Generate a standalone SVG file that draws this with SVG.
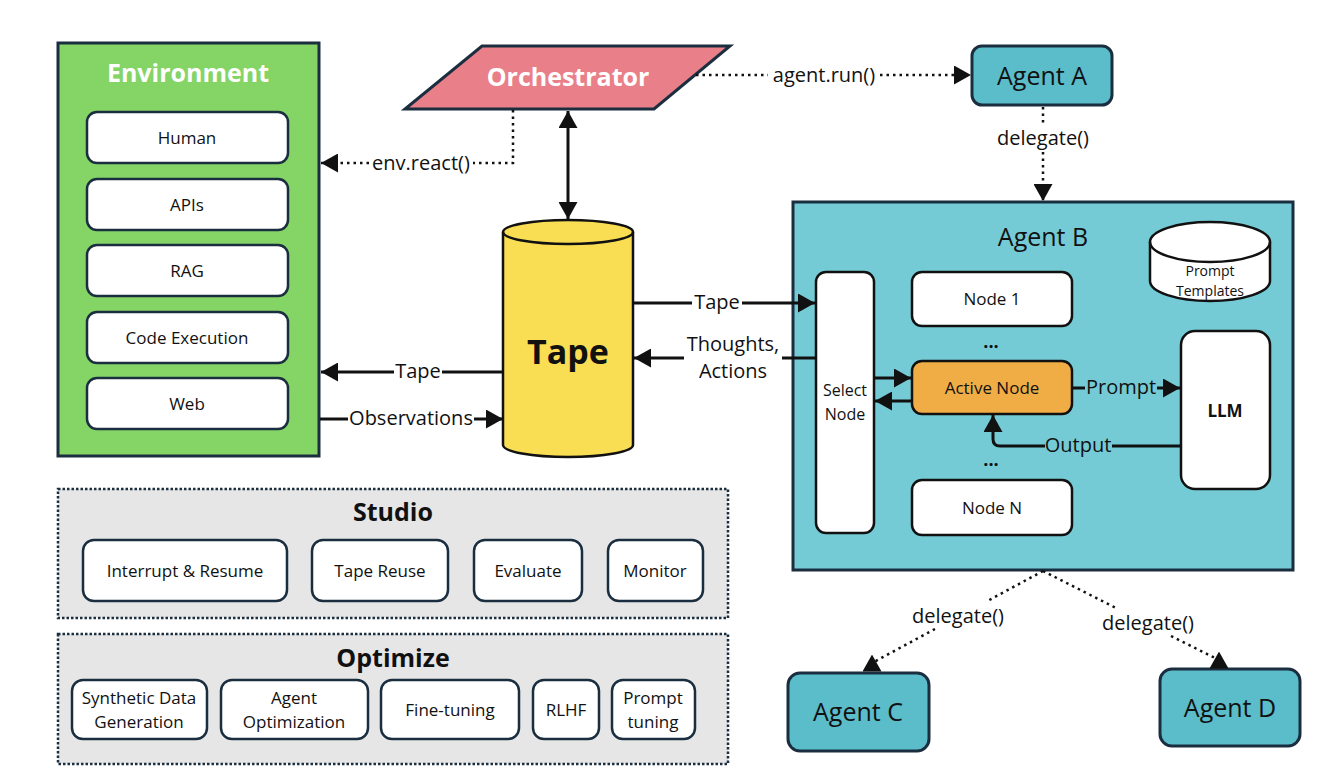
<svg xmlns="http://www.w3.org/2000/svg" width="1330" height="780" viewBox="0 0 1330 780">
<defs>
<style>
text{font-family:"Open Sans","Noto Sans","DejaVu Sans",sans-serif;fill:#111;text-anchor:middle;dominant-baseline:central}
.box{fill:#fff;stroke:#1a2e40;stroke-width:2.5}
.ln{fill:none;stroke:#111;stroke-width:3}
.dot{fill:none;stroke:#111;stroke-width:2.5;stroke-dasharray:2.5 4}
.lbl{font-size:20px}
.n17{font-size:17px}
.ttl{font-size:25px;font-weight:bold}
.ag{font-size:25px}
</style>
<marker id="arr" markerUnits="userSpaceOnUse" markerWidth="17" markerHeight="19" refX="17" refY="9.5" orient="auto-start-reverse" viewBox="0 0 17 19"><path d="M0,0 L17,9.5 L0,19 Z" fill="#111"/></marker>
<marker id="arrUp" markerUnits="userSpaceOnUse" markerWidth="17" markerHeight="19" refX="8.5" refY="9.5" orient="270" viewBox="0 0 17 19"><path d="M0,0 L17,9.5 L0,19 Z" fill="#111"/></marker>
</defs>
<rect width="1330" height="780" fill="#fff"/>

<g id="environment">
<rect x="58" y="43" width="261" height="413" fill="#84d466" stroke="#1a2e40" stroke-width="3"/>
<text x="188" y="72" class="ttl" style="fill:#fff">Environment</text>
<g id="env-human"><rect class="box" x="87" y="112" width="201" height="51" rx="10"/><text x="187" y="137.5" class="n17">Human</text></g>
<g id="env-apis"><rect class="box" x="87" y="179" width="201" height="51" rx="10"/><text x="187" y="204.5" class="n17">APIs</text></g>
<g id="env-rag"><rect class="box" x="87" y="245" width="201" height="51" rx="10"/><text x="187" y="270.5" class="n17">RAG</text></g>
<g id="env-code"><rect class="box" x="87" y="312" width="201" height="51" rx="10"/><text x="187" y="337.5" class="n17">Code Execution</text></g>
<g id="env-web"><rect class="box" x="87" y="378" width="201" height="51" rx="10"/><text x="187" y="403.5" class="n17">Web</text></g>
</g>

<g id="orchestrator">
<polygon points="482,46 730,46 654,109 405,109" fill="#e98089" stroke="#1a2e40" stroke-width="3"/>
<text x="568" y="76" style="font-size:25px;font-weight:bold;fill:#fff">Orchestrator</text>
</g>

<g id="tape">
<path d="M503,232 A65,12 0 0 1 633,232 V445 A65,12 0 0 1 503,445 Z" fill="#f9dd52" stroke="#111" stroke-width="2.5"/>
<path d="M503,232 A65,12 0 0 0 633,232" fill="none" stroke="#111" stroke-width="2.5"/>
<text x="568" y="351" style="font-size:34px;font-weight:bold">Tape</text>
</g>

<g id="agent-a">
<rect x="972" y="46" width="140" height="59" rx="10" fill="#5bbcca" stroke="#1a2e40" stroke-width="3"/>
<text x="1042" y="75" class="ag">Agent A</text>
</g>

<g id="agent-b">
<rect x="793" y="202" width="500" height="368" fill="#75cbd5" stroke="#1a2e40" stroke-width="3"/>
<text x="1043" y="236" class="ag">Agent B</text>
<g id="prompt-templates">
<path d="M1150,242 A60,20 0 0 1 1270,242 V281 A60,20 0 0 1 1150,281 Z" fill="#fff" stroke="#111" stroke-width="2.5"/>
<path d="M1150,242 A60,20 0 0 0 1270,242" fill="none" stroke="#111" stroke-width="2.5"/>
<text x="1210" y="270" style="font-size:14px">Prompt</text>
<text x="1210" y="290" style="font-size:14px">Templates</text>
</g>
<g id="select-node"><rect x="816" y="272" width="58" height="261" rx="10" fill="#fff" stroke="#111" stroke-width="2.5"/><text x="845" y="390" style="font-size:16px">Select</text><text x="845" y="414" style="font-size:16px">Node</text></g>
<g id="node-1"><rect x="912" y="272" width="160" height="54" rx="10" fill="#fff" stroke="#111" stroke-width="2.5"/><text x="992" y="298" class="n17">Node 1</text></g>
<text x="991" y="341" style="font-size:18px;font-weight:bold">...</text>
<g id="active-node"><rect x="912" y="361" width="160" height="53" rx="10" fill="#f0ad45" stroke="#111" stroke-width="2.5"/><text x="992" y="387" class="n17">Active Node</text></g>
<text x="991" y="459" style="font-size:18px;font-weight:bold">...</text>
<g id="node-n"><rect x="912" y="480" width="160" height="55" rx="10" fill="#fff" stroke="#111" stroke-width="2.5"/><text x="992" y="507" class="n17">Node N</text></g>
<g id="llm"><rect x="1181" y="331" width="89" height="158" rx="14" fill="#fff" stroke="#111" stroke-width="2.5"/><text x="1225" y="410" style="font-size:17px;font-weight:bold">LLM</text></g>
</g>

<g id="agent-c">
<rect x="788" y="673" width="141" height="78" rx="12" fill="#5bbcca" stroke="#1a2e40" stroke-width="3"/>
<text x="858" y="711" class="ag">Agent C</text>
</g>
<g id="agent-d">
<rect x="1160" y="669" width="140" height="77" rx="12" fill="#5bbcca" stroke="#1a2e40" stroke-width="3"/>
<text x="1230" y="707" class="ag">Agent D</text>
</g>

<g id="studio">
<rect x="58" y="489" width="670" height="129" fill="#e6e6e6" stroke="#1a2e40" stroke-width="2.5" stroke-dasharray="2.5 2"/>
<text x="393" y="511" class="ttl">Studio</text>
<g id="studio-interrupt"><rect class="box" x="83" y="540" width="204" height="61" rx="11"/><text x="185" y="570" class="n17">Interrupt &amp; Resume</text></g>
<g id="studio-reuse"><rect class="box" x="312" y="540" width="136" height="61" rx="11"/><text x="380" y="570" class="n17">Tape Reuse</text></g>
<g id="studio-evaluate"><rect class="box" x="474" y="540" width="108" height="61" rx="11"/><text x="528" y="570" class="n17">Evaluate</text></g>
<g id="studio-monitor"><rect class="box" x="608" y="540" width="95" height="61" rx="11"/><text x="655" y="570" class="n17">Monitor</text></g>
</g>

<g id="optimize">
<rect x="58" y="634" width="670" height="130" fill="#e6e6e6" stroke="#1a2e40" stroke-width="2.5" stroke-dasharray="2.5 2"/>
<text x="393" y="657" class="ttl">Optimize</text>
<g id="opt-synth"><rect class="box" x="72" y="680" width="135" height="59" rx="11"/><text x="139" y="697" class="n17">Synthetic Data</text><text x="139" y="721" class="n17">Generation</text></g>
<g id="opt-agent"><rect class="box" x="221" y="680" width="147" height="59" rx="11"/><text x="294" y="697" class="n17">Agent</text><text x="294" y="721" class="n17">Optimization</text></g>
<g id="opt-finetune"><rect class="box" x="381" y="680" width="138" height="59" rx="11"/><text x="450" y="709" class="n17">Fine-tuning</text></g>
<g id="opt-rlhf"><rect class="box" x="533" y="680" width="66" height="59" rx="11"/><text x="566" y="709" class="n17">RLHF</text></g>
<g id="opt-prompt"><rect class="box" x="612" y="680" width="83" height="59" rx="11"/><text x="653" y="697" class="n17">Prompt</text><text x="653" y="721" class="n17">tuning</text></g>
</g>

<g id="connectors">
<path class="ln" d="M568,111 V219" marker-start="url(#arr)" marker-end="url(#arr)"/>
<path class="dot" d="M513,110 V163 H473"/>
<path class="dot" d="M369,163 H321" marker-end="url(#arr)"/>
<text x="421" y="162" class="lbl">env.react()</text>
<path class="dot" d="M696,75 H768"/>
<path class="dot" d="M880,75 H971" marker-end="url(#arr)"/>
<text x="824" y="74" class="lbl">agent.run()</text>
<path class="dot" d="M1043,107 V124"/>
<path class="dot" d="M1043,152 V201" marker-end="url(#arr)"/>
<text x="1043" y="137" class="lbl">delegate()</text>
<path class="ln" d="M633,303 H692"/>
<path class="ln" d="M742,303 H815" marker-end="url(#arr)"/>
<text x="717" y="301" class="lbl">Tape</text>
<path class="ln" d="M816,358 H782"/>
<path class="ln" d="M684,358 H634" marker-end="url(#arr)"/>
<text x="733" y="343" class="lbl">Thoughts,</text>
<text x="733" y="370" class="lbl">Actions</text>
<path class="ln" d="M503,372 H442"/>
<path class="ln" d="M394,372 H321" marker-end="url(#arr)"/>
<text x="418" y="370" class="lbl">Tape</text>
<path class="ln" d="M320,419 H348"/>
<path class="ln" d="M474,419 H503" marker-end="url(#arr)"/>
<text x="411" y="417" class="lbl">Observations</text>
<path class="ln" d="M874,378 H911" marker-end="url(#arr)"/>
<path class="ln" d="M912,401 H875" marker-end="url(#arr)"/>
<path class="ln" d="M1072,388 H1085"/>
<path class="ln" d="M1157,388 H1180" marker-end="url(#arr)"/>
<text x="1121" y="386" class="lbl">Prompt</text>
<path class="ln" d="M1181,446 H1112"/>
<path class="ln" d="M1045,446 H1000 Q993,446 993,439 V415" marker-end="url(#arr)"/>
<text x="1078" y="444" class="lbl">Output</text>
<path class="dot" d="M1043,571 L988,600.7"/>
<path class="dot" d="M935,629 L872,663" marker-end="url(#arrUp)"/>
<text x="958" y="615" class="lbl">delegate()</text>
<path class="dot" d="M1043,571 L1118,609"/>
<path class="dot" d="M1171,636 L1219,660" marker-end="url(#arrUp)"/>
<text x="1148" y="622" class="lbl">delegate()</text>
</g>
</svg>
